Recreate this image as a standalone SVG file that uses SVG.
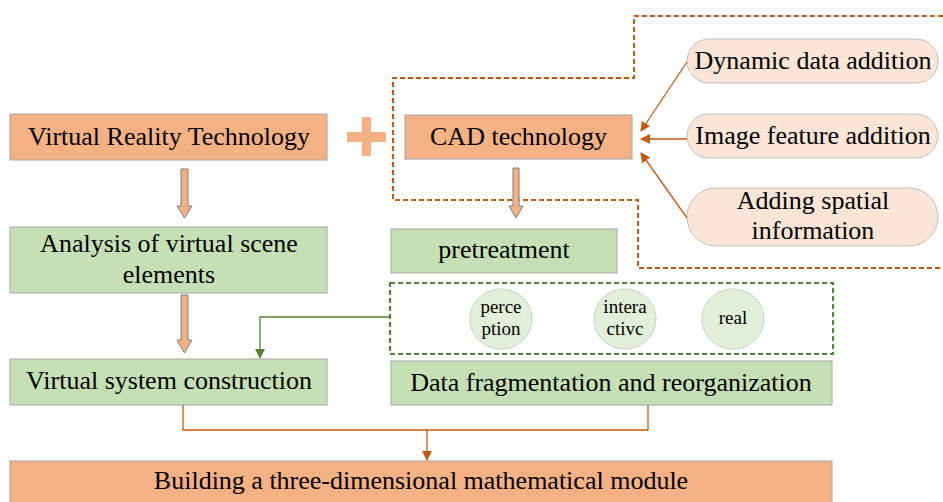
<svg xmlns="http://www.w3.org/2000/svg" width="943" height="502" viewBox="0 0 943 502">
<defs>
<style>
.t{font-family:'Liberation Serif','DejaVu Serif',Times,serif;font-size:26px;fill:#000;text-anchor:middle}
.ts{font-family:'Liberation Serif','DejaVu Serif',Times,serif;font-size:19px;fill:#000;text-anchor:middle}
.or{fill:#F4B183;stroke:#A6A6A6;stroke-width:1}
.gr{fill:#C5E0B4;stroke:#A6A6A6;stroke-width:1}
.pill{fill:#FBE5D6;stroke:#BFBFBF;stroke-width:1}
.circ{fill:#E2F0D9;stroke:#BFBFBF;stroke-width:1;stroke-dasharray:3 1}
.bigarrow{fill:#F4B183;stroke:#7F7F7F;stroke-width:1}
.odash{fill:none;stroke:#C55A11;stroke-width:2;stroke-dasharray:5 3}
.gdash{fill:none;stroke:#548235;stroke-width:2;stroke-dasharray:5 3}
.oline{fill:none;stroke:#C55A11;stroke-width:1.3}
.gline{fill:none;stroke:#548235;stroke-width:1.3}
</style>
<marker id="ao" markerWidth="10" markerHeight="10" refX="9" refY="5" orient="auto" markerUnits="userSpaceOnUse">
<path d="M0,0 L10,5 L0,10 Z" fill="#C55A11"/>
</marker>
<marker id="ag" markerWidth="10" markerHeight="10" refX="9" refY="5" orient="auto" markerUnits="userSpaceOnUse">
<path d="M0,0 L10,5 L0,10 Z" fill="#548235"/>
</marker>
</defs>
<rect width="943" height="502" fill="#fff"/>

<g id="frames">
<path class="odash" d="M943,16 H634 V78 H393 V200 H638 V268 H943"/>
<rect class="gdash" x="390" y="283" width="443" height="71"/>
</g>

<g id="plus">
<rect x="347" y="132" width="39" height="10" fill="#F4B183"/>
<rect x="362" y="117" width="9" height="39" fill="#F4B183"/>
</g>

<g id="vr"><rect class="or" x="10" y="114" width="317" height="46"/><text class="t" x="169" y="145">Virtual Reality Technology</text></g>
<g id="cad"><rect class="or" x="405" y="115" width="227" height="44"/><text class="t" x="518.5" y="145">CAD technology</text></g>
<g id="analysis"><rect class="gr" x="10" y="227" width="317" height="66"/><text class="t" x="169" y="252">Analysis of virtual scene</text><text class="t" x="169" y="283">elements</text></g>
<g id="pretreatment"><rect class="gr" x="391" y="229" width="226" height="44"/><text class="t" x="504" y="258">pretreatment</text></g>
<g id="virtualsys"><rect class="gr" x="10" y="359" width="317" height="46"/><text class="t" x="169" y="389">Virtual system construction</text></g>
<g id="datafrag"><rect class="gr" x="391" y="361" width="441" height="44"/><text class="t" x="611" y="391">Data fragmentation and reorganization</text></g>
<g id="building"><rect class="or" x="10" y="461" width="822" height="46"/><text class="t" x="421" y="489">Building a three-dimensional mathematical module</text></g>

<g id="dyn"><rect class="pill" x="687" y="39" width="251" height="44" rx="22"/><text class="t" x="813" y="69">Dynamic data addition</text></g>
<g id="img"><rect class="pill" x="687" y="114" width="251" height="44" rx="22"/><text class="t" x="813" y="144">Image feature addition</text></g>
<g id="spatial"><rect class="pill" x="687" y="188" width="251" height="58" rx="29"/><text class="t" x="813" y="209">Adding spatial</text><text class="t" x="813" y="239">information</text></g>

<g id="perception"><ellipse class="circ" cx="501" cy="319" rx="31" ry="30"/><text class="ts" x="501" y="313">perce</text><text class="ts" x="501" y="335">ption</text></g>
<g id="interactive"><ellipse class="circ" cx="625" cy="319" rx="31" ry="30"/><text class="ts" x="625" y="313">intera</text><text class="ts" x="625" y="335">ctivc</text></g>
<g id="real"><ellipse class="circ" cx="733" cy="319" rx="31" ry="30"/><text class="ts" x="733" y="324">real</text></g>

<g id="connectors">
<path class="bigarrow" d="M181,169 H188 V206 H192 L184.5,218 L177,206 H181 Z"/>
<path class="bigarrow" d="M181,295 H188 V340 H192 L184.5,353 L177,340 H181 Z"/>
<path class="bigarrow" d="M513,168 H519 V206 H523 L516,218 L509,206 H513 Z"/>
<path class="oline" d="M687,62 L641,131" marker-end="url(#ao)"/>
<path class="oline" d="M687,139 H641" marker-end="url(#ao)"/>
<path class="oline" d="M687,218 L641,153" marker-end="url(#ao)"/>
<path class="gline" d="M390,317 H260 V358" marker-end="url(#ag)"/>
<path class="oline" d="M183,405 V430 H648 V405"/>
<path class="oline" d="M427,430 V460" marker-end="url(#ao)"/>
</g>
</svg>
